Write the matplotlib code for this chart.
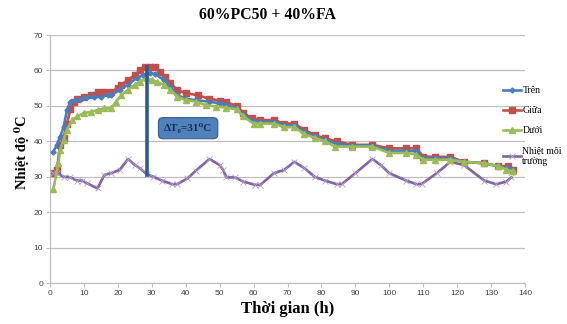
import matplotlib
matplotlib.use('Agg')
import matplotlib.pyplot as plt

# series (time in h, temperature in degC)
t_tren = [1, 2, 3, 4, 5, 6, 7.5, 9, 11, 13, 15, 17, 18, 20.5, 23, 25.5, 27.5, 29.5, 31,
          33.5, 35.5, 37.5, 40, 43, 47, 50, 52, 55, 57, 60, 62, 66, 69, 72, 75, 78, 81,
          84.5, 89, 95, 100, 105, 108, 110, 113.5, 118, 122, 128, 132, 135, 136.5]
tren = [37, 39, 41.3, 44, 48.8, 51.2, 51.6, 52, 52.5, 52.5, 52.5, 53, 53, 54.5, 56, 57.8,
        58.7, 59.2, 59, 57.3, 55.4, 53, 52, 51.6, 51.2, 50.7, 50.2, 49.3, 47.5, 45.7, 45.5,
        45.5, 44.5, 44.5, 42.6, 41.4, 40.4, 39.3, 38.8, 38.8, 37.3, 37.3, 37.2, 35.2, 35.2,
        35.2, 34.2, 33.8, 33, 32.5, 31.8]

t_giua = [1, 2, 3, 4, 5, 6, 7, 8, 10, 12, 14, 16, 18, 20, 21, 23, 25, 26.5, 28, 29.5, 31,
          32.5, 34, 35.5, 37.5, 40, 43.5, 47, 50, 52, 55, 57, 59.5, 62, 66, 69, 72, 75, 78,
          81, 84.5, 89, 95, 100, 105, 108, 110, 113.5, 118, 122, 128, 132, 135, 136.5]
giua = [31, 32, 39, 41, 45, 49, 51, 52, 52.6, 53, 54, 54, 54, 55, 56, 57.3, 58.7, 60, 61,
        61, 61, 59.6, 58.2, 56.4, 54.5, 53.6, 53, 52, 51.5, 51, 50, 48, 46.5, 46, 46, 45,
        45, 43.2, 41.8, 40.8, 40, 39, 39, 38, 38, 38, 35.7, 35.6, 35.6, 34.2, 33.8, 33, 33,
        32]

t_duoi = [1, 2.5, 3, 4, 5, 6.5, 8, 10, 12, 14, 16, 18, 19.5, 21, 23, 25, 26.5, 28.5, 30,
          31.5, 33.5, 35.5, 37.5, 40, 43, 46, 49, 52, 55, 57, 60, 62, 66, 69, 72, 75, 78,
          81, 84, 89, 95, 100, 105, 108, 110, 113.5, 118, 122, 128, 132, 134.5, 136.5]
duoi = [26.5, 33.8, 37.5, 40.4, 43.2, 46, 47, 48, 48.3, 48.8, 49.3, 49.3, 51.2, 53, 54.5,
        56, 56.8, 57.8, 57.3, 56.8, 56, 54.5, 52.6, 51.6, 51.2, 50.2, 49.8, 49.5, 49, 47,
        45, 45, 45, 44, 44, 42, 41, 40, 38.5, 38.5, 38.5, 36.7, 36.7, 36.2, 34.8, 34.8,
        34.8, 34.2, 33.8, 33, 32, 31.5]

t_mt = [1, 2, 4, 6, 8, 9.5, 11, 14, 16, 18, 20.5, 23, 25, 26.5, 28.5, 30.5, 33, 36, 37.5,
        40.5, 43, 47, 50, 51, 52, 54.5, 57, 60.5, 62, 66, 69, 72, 75, 78, 81, 84.5, 86, 90,
        95, 97.5, 100, 105, 108, 109.5, 114, 118, 122, 128, 131.5, 134.5, 136]
moi_truong = [31, 31, 30, 29.8, 28.9, 28.9, 28.1, 26.7, 30.5, 31, 31.9, 35, 33.3, 32.4,
              30.7, 30, 28.9, 27.9, 27.9, 29.5, 31.7, 35, 33.3, 31.9, 29.8, 29.8, 28.6,
              27.7, 27.7, 31, 31.9, 34.2, 32.4, 30, 28.9, 27.9, 27.9, 31, 35, 33.3, 31,
              28.9, 27.9, 27.9, 31, 34.2, 33.3, 28.9, 27.9, 28.6, 29.8]

# delta T marker: peak of Giữa down to ambient
dt_time = 28.5
dt_top = 61
dt_bottom = 30.5

serif = ['Liberation Serif', 'DejaVu Serif']

fig = plt.figure(figsize=(5.67, 3.24), dpi=100)
ax = fig.add_axes([50 / 567, 1 - 283 / 324, 475 / 567, 248 / 324])

ax.plot(t_tren, tren, color='#4a7ebb', lw=1.9, marker='D', ms=2.6, label='Trên', zorder=3)
ax.plot(t_giua, giua, color='#c0504d', lw=1.9, marker='s', ms=4.2, label='Giữa', zorder=2)
ax.plot(t_duoi, duoi, color='#9bbb59', lw=1.9, marker='^', ms=4.2, label='Dưới', zorder=4)
ax.plot(t_mt, moi_truong, color='#8064a2', lw=1.9, marker='x', ms=4.5, mew=0.6,
        mec='#b3a2c7', label='Nhiệt môi\ntrường', zorder=3)

ax.plot([dt_time, dt_time], [dt_bottom, dt_top], color='#2f5b8c', lw=2.6, zorder=5)
ax.text(40.7, 43.7, 'ΔT₀=31⁰C', family=serif, fontweight='bold', fontsize=8,
        color='#1f2d4d', ha='center', va='center', zorder=6,
        bbox=dict(boxstyle='round,pad=0.5,rounding_size=0.4', fc='#4f81bd', ec='#385d8a', lw=0.8))

ax.set_xlim(0, 140)
ax.set_ylim(0, 70)
ax.set_xticks(range(0, 141, 10))
ax.set_yticks(range(0, 71, 10))
ax.yaxis.grid(True, color='#bfbfbf', lw=0.9)
ax.set_axisbelow(True)
for s in ['top', 'right']:
    ax.spines[s].set_visible(False)
for s in ['left', 'bottom']:
    ax.spines[s].set_color('#bfbfbf')
    ax.spines[s].set_linewidth(0.9)
ax.tick_params(axis='both', colors='#bfbfbf', length=3, width=0.8, labelsize=6,
               labelcolor='#404040', pad=2)
for lab in ax.get_xticklabels() + ax.get_yticklabels():
    lab.set_family('Liberation Sans')

fig.text(267 / 567, 1 - 15 / 324, '60%PC50 + 40%FA', family=serif, fontweight='bold',
         fontsize=11.3, ha='center', va='center')
fig.text(288 / 567, 1 - 309 / 324, 'Thời gian (h)', family=serif, fontweight='bold',
         fontsize=12, ha='center', va='center')
fig.text(22 / 567, 1 - 152 / 324, 'Nhiệt độ ⁰C', family=serif, fontweight='bold',
         fontsize=10.5, ha='center', va='center', rotation=90)

leg = ax.legend(loc='upper left', bbox_to_anchor=(503 / 567, 1 - 86 / 324),
                bbox_transform=fig.transFigure, frameon=False, prop={'family': serif, 'size': 7},
                handlelength=1.9, handletextpad=0.1, labelspacing=1.15, borderpad=0,
                borderaxespad=0)

fig.savefig('out.png', dpi=100)
